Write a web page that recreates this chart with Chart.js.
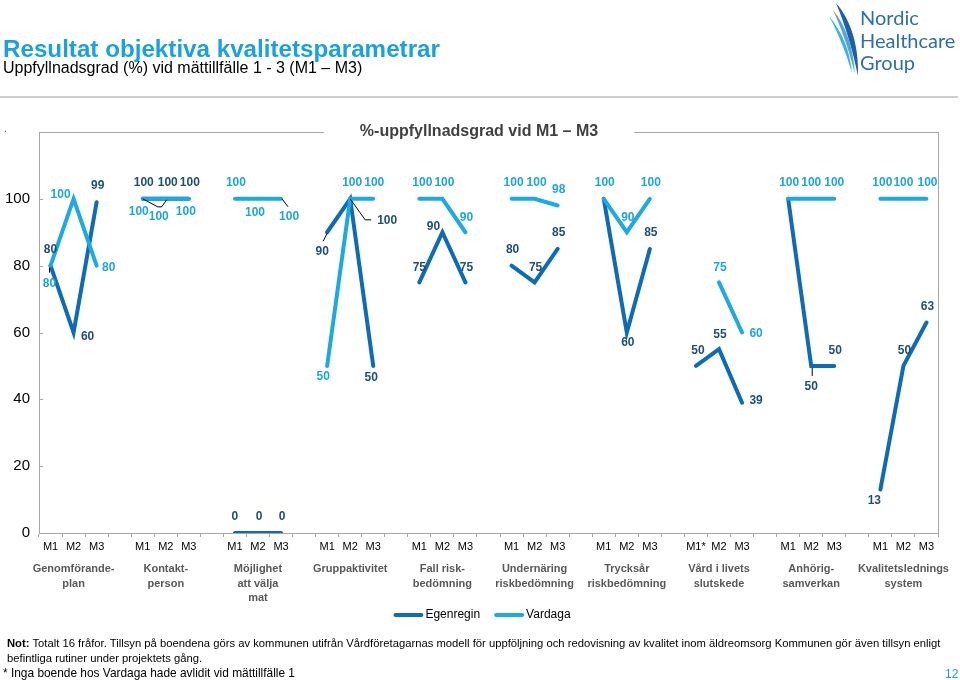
<!DOCTYPE html>
<html>
<head>
<meta charset="utf-8">
<script src="https://cdn.jsdelivr.net/npm/chart.js@4.4.1/dist/chart.umd.min.js"></script>
<style>
  html, body { margin:0; padding:0; background:#fff; }
  body { width:960px; height:680px; position:relative; overflow:hidden; font-family:"Liberation Sans", Arial, sans-serif; }
  #c { position:absolute; left:0; top:0; }
  .abs { position:absolute; white-space:nowrap; line-height:1; }
  #title { left:3px; top:37px; font-size:24.2px; font-weight:bold; color:#1BA1DD; }
  #subtitle { left:3px; top:60px; font-size:16px; color:#000; }
  #hr { position:absolute; left:0; top:96px; width:958px; height:2px; background:#CFCFCF; }
  #dot { left:4px; top:124px; font-size:10px; color:#555; }
  .note { color:#000; line-height:15px; }
  #note1 { left:7px; top:636px; font-size:11.25px; }
  #note2 { left:3px; top:666px; font-size:11.9px; }
  #page { left:945px; top:668px; font-size:12px; color:#1BA1DD; }
  #logo { position:absolute; left:826px; top:0px; width:134px; height:80px; }
  .logotext { position:absolute; left:860px; font-family:Lato, "Open Sans", sans-serif; font-size:20px; color:#2D6DB0; line-height:1; }
</style>
</head>
<body>
<canvas id="c" width="960" height="680"></canvas>
<div id="title" class="abs">Resultat objektiva kvalitetsparametrar</div>
<div id="subtitle" class="abs">Uppfyllnadsgrad (%) vid mättillfälle 1 - 3 (M1 – M3)</div>
<div id="hr"></div>
<div id="dot" class="abs">.</div>
<svg id="logo" viewBox="826 0 134 80" xmlns="http://www.w3.org/2000/svg">
  <path d="M836 3 C851 20 859 46 858 76 C853 52 846 27 836 3 Z" fill="#1E5FA6"/>
  <path d="M829 16 C842 32 850 50 852 73 C846 53 839 35 829 16 Z" fill="#3FB3E6"/>
  <path d="M833 10 C846 26 853 46 855 74 C849 50 842 30 833 10 Z" fill="#2C8FD0" opacity="0.8"/>
</svg>
<div class="logotext" style="top:7px;">Nordic</div>
<div class="logotext" style="top:30px;">Healthcare</div>
<div class="logotext" style="top:52px;">Group</div>
<div id="note1" class="abs note"><b>Not:</b> Totalt 16 fråfor. Tillsyn på boendena görs av kommunen utifrån Vårdföretagarnas modell för uppföljning och redovisning av kvalitet inom äldreomsorg Kommunen gör även tillsyn enligt<br>befintliga rutiner under projektets gång.</div>
<div id="note2" class="abs note">* Inga boende hos Vardaga hade avlidit vid mättillfälle 1</div>
<div id="page" class="abs">12</div>
<script>
// ---------- DATA ----------
const groups = [
  ['Genomförande-','plan'],
  ['Kontakt-','person'],
  ['Möjlighet','att välja','mat'],
  ['Gruppaktivitet'],
  ['Fall risk-','bedömning'],
  ['Undernäring','riskbedömning'],
  ['Trycksår','riskbedömning'],
  ['Vård i livets','slutskede'],
  ['Anhörig-','samverkan'],
  ['Kvalitetslednings','system']
];
const xLabels = [
  'M1','M2','M3','',
  'M1','M2','M3','',
  'M1','M2','M3','',
  'M1','M2','M3','',
  'M1','M2','M3','',
  'M1','M2','M3','',
  'M1','M2','M3','',
  'M1*','M2','M3','',
  'M1','M2','M3','',
  'M1','M2','M3'
];
const egenregin = [
  80,60,99,null,
  100,100,100,null,
  0,0,0,null,
  90,100,50,null,
  75,90,75,null,
  80,75,85,null,
  100,60,85,null,
  50,55,39,null,
  100,50,50,null,
  13,50,63
];
const vardaga = [
  80,100,80,null,
  100,100,100,null,
  100,100,100,null,
  50,100,100,null,
  100,100,90,null,
  100,100,98,null,
  100,90,100,null,
  null,75,60,null,
  100,100,100,null,
  100,100,100
];
const yTicks = [0,20,40,60,80,100];
const seriesNames = ['Egenregin','Vardaga'];
const chartTitle = '%-uppfyllnadsgrad vid M1 – M3';

// ---------- STYLE ----------
const FONT = '"Liberation Sans", Arial, sans-serif';
const DARK = '#0E6BB8', LIGHT = '#1DA9E4';
const DARK_LBL = '#1F4E79', LIGHT_LBL = '#1EA5DF';
// label offsets [dx,dy] from each point (null = no label)
const egenOff = [
  [0,-16],[14,4],[1,-16], null,
  [1,-16],[2,-16],[1,-16], null,
  [0,-16],[1,-16],[1,-16], null,
  [-5,19],[37,22],[-2,12], null,
  [0,-15],[-9,-6],[1,-15], null,
  [1,-16],[1,-15],[1,-16], null,
  null,[1,10],[1,-16], null,
  [2,-15],[1,-15],[14,-2], null,
  null,[0,21],[1,-15], null,
  [-6,11],[1,-15],[1,-16]
];
const vardOff = [
  [-1,18],[-13,-4],[12,2], null,
  [-4,13],[-7,18],[-3,13], null,
  [1,-16],[-3,14],[8,18], null,
  [-4,11],[2,-16],[1,-16], null,
  [3,-16],[2,-16],[1,-15], null,
  [2,-16],[2,-16],[1,-16], null,
  [1,-16],[1,-15],[1,-16], null,
  null,[1,-15],[14,1], null,
  [1,-16],[0,-16],[0,-16], null,
  [2,-16],[0,-16],[1,-16]
];
// thin leader lines (polyline offsets from the data point), keyed by point index
const egenLeaders = { 0: [[-1,2],[-1,7]], 12: [[0,1],[-4,9]], 13: [[0,0],[15,21],[21,21]], 33: [[1,2],[1,10]] };
const vardLeaders = { 4: [[0,0],[15,8],[19,8],[24,1]], 10: [[1,0],[7,8]] };

const labelPlugin = {
  id: 'valueLabels',
  afterDatasetsDraw(chart) {
    const ctx = chart.ctx;
    ctx.save();
    // leaders
    ctx.strokeStyle = '#000';
    ctx.lineWidth = 1;
    chart.data.datasets.forEach((ds, di) => {
      const meta = chart.getDatasetMeta(di);
      Object.keys(ds.leaders).forEach(k => {
        const el = meta.data[+k];
        const pts = ds.leaders[k];
        ctx.beginPath();
        pts.forEach((p, j) => {
          const x = el.x + p[0], y = el.y + p[1];
          if (j) ctx.lineTo(x, y); else ctx.moveTo(x, y);
        });
        ctx.stroke();
      });
    });
    ctx.font = 'bold 12px ' + FONT;
    ctx.textAlign = 'center';
    ctx.textBaseline = 'middle';
    chart.data.datasets.forEach((ds, di) => {
      const meta = chart.getDatasetMeta(di);
      const offs = ds.labelOffsets;
      ctx.fillStyle = ds.labelColor;
      meta.data.forEach((el, i) => {
        const v = ds.data[i];
        if (v === null || v === undefined || !offs[i]) return;
        ctx.fillText(String(v), el.x + offs[i][0], el.y + offs[i][1]);
      });
    });
    ctx.restore();
  }
};

const framePlugin = {
  id: 'frame',
  afterDraw(chart) {
    const ctx = chart.ctx, a = chart.chartArea;
    const ys = chart.scales.y, xs = chart.scales.x;
    ctx.save();
    ctx.strokeStyle = '#A6A6A6';
    ctx.lineWidth = 1;
    // right border
    ctx.beginPath();
    ctx.moveTo(Math.round(a.right) + 0.5, a.top);
    ctx.lineTo(Math.round(a.right) + 0.5, a.bottom);
    ctx.stroke();
    // title on top border
    ctx.font = 'bold 16px ' + FONT;
    const tw = ctx.measureText(chartTitle).width;
    const cx = 479;
    const g0 = cx - tw / 2 - 36, g1 = cx + tw / 2 + 36;
    const ty = Math.round(a.top) + 0.5;
    ctx.beginPath();
    ctx.moveTo(a.left, ty); ctx.lineTo(g0, ty);
    ctx.moveTo(g1, ty); ctx.lineTo(a.right + 1, ty);
    ctx.stroke();
    ctx.fillStyle = '#404040';
    ctx.textAlign = 'center';
    ctx.textBaseline = 'middle';
    ctx.fillText(chartTitle, cx, a.top);
    // small inner y tick marks
    ctx.beginPath();
    yTicks.forEach(v => {
      const y = Math.round(ys.getPixelForValue(v)) + 0.5;
      ctx.moveTo(a.left, y); ctx.lineTo(a.left + 4, y);
    });
    ctx.stroke();
    // group labels
    ctx.font = 'bold 11px ' + FONT;
    ctx.fillStyle = '#595959';
    groups.forEach((lines, gi) => {
      const x = xs.getPixelForValue(gi * 4 + 1);
      lines.forEach((t, li) => {
        ctx.fillText(t, x, a.bottom + 36 + li * 14.5);
      });
    });
    // legend
    ctx.font = '12px ' + FONT;
    ctx.textAlign = 'left';
    const items = chart.data.datasets.map(ds => ({ text: ds.label, color: ds.borderColor }));
    const sw = 30, gap = 2, between = 14;
    let total = 0;
    items.forEach((it, i) => { total += sw + gap + ctx.measureText(it.text).width + (i ? between : 0); });
    let lx = 482 - total / 2;
    const ly = 615;
    items.forEach((it, i) => {
      if (i) lx += between;
      ctx.strokeStyle = it.color;
      ctx.lineWidth = 4;
      ctx.lineCap = 'round';
      ctx.beginPath();
      ctx.moveTo(lx + 2, ly); ctx.lineTo(lx + sw - 2, ly);
      ctx.stroke();
      lx += sw + gap;
      ctx.fillStyle = '#000';
      ctx.fillText(it.text, lx, ly);
      lx += ctx.measureText(it.text).width;
    });
    ctx.restore();
  }
};

new Chart(document.getElementById('c'), {
  type: 'line',
  data: {
    labels: xLabels,
    datasets: [
      { label: seriesNames[0], data: egenregin, borderColor: DARK, backgroundColor: DARK,
        borderWidth: 4, pointRadius: 0, tension: 0, spanGaps: false, order: 1,
        borderCapStyle: 'round', borderJoinStyle: 'miter',
        labelOffsets: egenOff, labelColor: DARK_LBL, leaders: egenLeaders },
      { label: seriesNames[1], data: vardaga, borderColor: LIGHT, backgroundColor: LIGHT,
        borderWidth: 4, pointRadius: 0, tension: 0, spanGaps: false, order: 0,
        borderCapStyle: 'round', borderJoinStyle: 'miter',
        labelOffsets: vardOff, labelColor: LIGHT_LBL, leaders: vardLeaders }
    ]
  },
  options: {
    responsive: false,
    animation: false,
    devicePixelRatio: 1,
    layout: { padding: { left: 0, right: 22, top: 132, bottom: 81 } },
    plugins: { legend: { display: false }, tooltip: { enabled: false } },
    scales: {
      x: {
        type: 'category',
        offset: true,
        grid: { display: true, drawOnChartArea: false, drawTicks: true, tickLength: 4, offset: true, color: '#A6A6A6' },
        border: { display: true, color: '#A6A6A6', width: 1 },
        ticks: { autoSkip: false, maxRotation: 0, minRotation: 0, padding: 3, color: '#000', font: { family: FONT, size: 11 } },
        afterFit: s => { s.height = 66; }
      },
      y: {
        min: 0, max: 120,
        grid: { display: false, drawTicks: false, tickLength: 0 },
        border: { display: true, color: '#A6A6A6', width: 1 },
        ticks: { stepSize: 20, padding: 9, color: '#000', font: { family: FONT, size: 15 },
                 callback: v => yTicks.includes(v) ? String(v) : '' },
        afterFit: s => { s.width = 39; }
      }
    }
  },
  plugins: [labelPlugin, framePlugin]
});
</script>
</body>
</html>
